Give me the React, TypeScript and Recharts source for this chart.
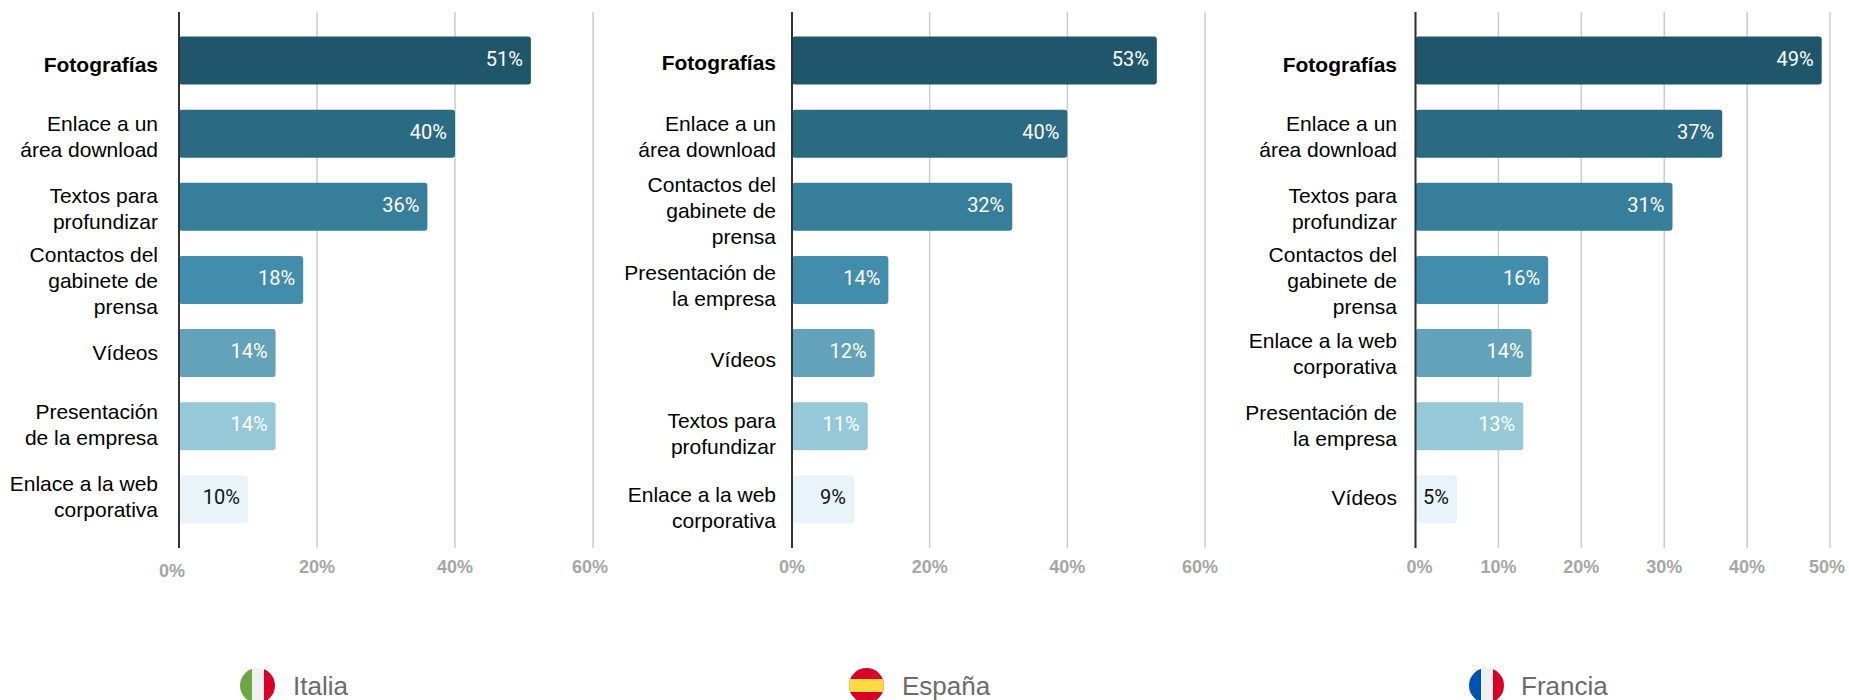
import { BarChart, Bar, XAxis, YAxis, CartesianGrid, Cell, LabelList } from "recharts";

const italyLabels = [
  "Fotografías",
  "Enlace a un\nárea download",
  "Textos para\nprofundizar",
  "Contactos del\ngabinete de\nprensa",
  "Vídeos",
  "Presentación\nde la empresa",
  "Enlace a la web\ncorporativa",
];
const italyValues = [51, 40, 36, 18, 14, 14, 10];

const spainLabels = [
  "Fotografías",
  "Enlace a un\nárea download",
  "Contactos del\ngabinete de\nprensa",
  "Presentación de\nla empresa",
  "Vídeos",
  "Textos para\nprofundizar",
  "Enlace a la web\ncorporativa",
];
const spainValues = [53, 40, 32, 14, 12, 11, 9];

const franceLabels = [
  "Fotografías",
  "Enlace a un\nárea download",
  "Textos para\nprofundizar",
  "Contactos del\ngabinete de\nprensa",
  "Enlace a la web\ncorporativa",
  "Presentación de\nla empresa",
  "Vídeos",
];
const franceValues = [49, 37, 31, 16, 14, 13, 5];

const ticks60 = [0, 20, 40, 60];
const ticks50 = [0, 10, 20, 30, 40, 50];

const barColors = ["#20566b", "#2a6a82", "#377e9a", "#428dab", "#63a2b8", "#96c8d8", "#e8f4f9"];

const LABEL_FONT = "'Liberation Sans', Arial, sans-serif";

const toRows = (labels: string[], values: number[]) =>
  labels.map((label, i) => ({ label, value: values[i] }));

function CategoryTick({ x, y, payload, index, labelDy, drift }: any) {
  const lines = String(payload.value).split("\n");
  const lineHeight = 26;
  const startY = y + 10 + labelDy - ((lines.length - 1) * lineHeight) / 2 + index * drift;
  return (
    <text
      x={x}
      y={startY}
      textAnchor="end"
      fontFamily={LABEL_FONT}
      fontSize={21}
      fontWeight={index === 0 ? 700 : 400}
      fill="#000"
    >
      {lines.map((line, i) => (
        <tspan key={i} x={x} y={startY + i * lineHeight}>
          {line}
        </tspan>
      ))}
    </text>
  );
}

function PercentTick({ x, y, payload, zeroDx, zeroDy, lastDx, max }: any) {
  const isZero = payload.value === 0;
  const isLast = payload.value === max;
  return (
    <text
      x={x + (isZero ? zeroDx : 0) + (isLast ? lastDx : 0)}
      y={y + (isZero ? zeroDy : 0)}
      textAnchor="middle"
      fontFamily={LABEL_FONT}
      fontSize={18}
      fontWeight={700}
      fill="#a6a6a6"
    >
      {payload.value}%
    </text>
  );
}

function ValueLabel({ x, y, width, height, value, index }: any) {
  return (
    <text
      x={x + width - 8}
      y={y + height / 2 + 5}
      textAnchor="end"
      fontFamily="Roboto, sans-serif"
      fontSize={20}
      fill={index === barColors.length - 1 ? "#111" : "#fff"}
    >
      {value}%
    </text>
  );
}

interface PanelProps {
  left: number;
  width: number;
  axisWidth: number;
  marginRight: number;
  labelGap: number;
  labelDy: number;
  drift: number;
  zeroDx: number;
  zeroDy: number;
  lastDx: number;
  max: number;
  ticks: number[];
  labels: string[];
  values: number[];
}

function Panel(p: PanelProps) {
  return (
    <div style={{ position: "absolute", left: p.left, top: 0 }}>
      <BarChart
        width={p.width}
        height={600}
        layout="vertical"
        data={toRows(p.labels, p.values)}
        margin={{ top: 12, right: p.marginRight, bottom: 0, left: 0 }}
        barCategoryGap={13}
      >
        <CartesianGrid horizontal={false} stroke="#cccccc" strokeWidth={1.5} />
        <XAxis
          type="number"
          domain={[0, p.max]}
          ticks={p.ticks}
          height={52}
          interval={0}
          axisLine={false}
          tickLine={false}
          tick={(props: any) => (
            <PercentTick {...props} y={573} zeroDx={p.zeroDx} zeroDy={p.zeroDy} lastDx={p.lastDx} max={p.max} />
          )}
        />
        <YAxis
          type="category"
          dataKey="label"
          width={p.axisWidth}
          padding={{ top: 11.5, bottom: 12.5 }}
          axisLine={{ stroke: "#333333", strokeWidth: 2 }}
          tickLine={false}
          tickSize={0}
          tickMargin={p.labelGap}
          interval={0}
          tick={(props: any) => <CategoryTick {...props} labelDy={p.labelDy} drift={p.drift} />}
        />
        <Bar dataKey="value" barSize={48} radius={3} isAnimationActive={false}>
          {p.values.map((_, i) => (
            <Cell key={i} fill={barColors[i]} />
          ))}
          <LabelList dataKey="value" content={(props: any) => <ValueLabel {...props} />} />
        </Bar>
      </BarChart>
    </div>
  );
}

function Flag({ country }: { country: string }) {
  return (
    <svg width={35} height={35} viewBox="0 0 35 35" style={{ display: "block" }}>
      <defs>
        <clipPath id={`clip-${country}`}>
          <circle cx={17.5} cy={17.5} r={17.5} />
        </clipPath>
      </defs>
      <g clipPath={`url(#clip-${country})`}>
        {country === "Italia" && (
          <>
            <rect x={0} y={0} width={12} height={35} fill="#6da544" />
            <rect x={12} y={0} width={12} height={35} fill="#f0f0f0" />
            <rect x={24} y={0} width={11} height={35} fill="#d80027" />
          </>
        )}
        {country === "España" && (
          <>
            <rect x={0} y={0} width={35} height={35} fill="#d80027" />
            <rect x={0} y={11} width={35} height={13} fill="#ffda44" />
          </>
        )}
        {country === "Francia" && (
          <>
            <rect x={0} y={0} width={12} height={35} fill="#0052b4" />
            <rect x={12} y={0} width={12} height={35} fill="#f0f0f0" />
            <rect x={24} y={0} width={11} height={35} fill="#d80027" />
          </>
        )}
      </g>
    </svg>
  );
}

function LegendItem({ country, flagLeft, textLeft }: { country: string; flagLeft: number; textLeft: number }) {
  return (
    <>
      <div style={{ position: "absolute", left: flagLeft, top: 668 }}>
        <Flag country={country} />
      </div>
      <div
        style={{
          position: "absolute",
          left: textLeft,
          top: 671,
          fontFamily: LABEL_FONT,
          fontSize: 26,
          lineHeight: "30px",
          color: "#6b6b6b",
        }}
      >
        {country}
      </div>
    </>
  );
}

export default function App() {
  return (
    <div style={{ position: "absolute", left: 0, top: 0, width: 1849, height: 700, overflow: "hidden", background: "#fff" }}>
      <Panel left={0} width={620} axisWidth={179} marginRight={27} labelGap={21} labelDy={1.5} drift={-1} zeroDx={-7} zeroDy={4} lastDx={-3} max={60} ticks={ticks60} labels={italyLabels} values={italyValues} />
      <Panel left={620} width={620} axisWidth={172} marginRight={35} labelGap={16} labelDy={0} drift={1} zeroDx={0} zeroDy={0} lastDx={-5} max={60} ticks={ticks60} labels={spainLabels} values={spainValues} />
      <Panel left={1240} width={609} axisWidth={175.5} marginRight={19} labelGap={18.5} labelDy={1.5} drift={-0.9} zeroDx={4} zeroDy={0} lastDx={-3} max={50} ticks={ticks50} labels={franceLabels} values={franceValues} />
      <LegendItem country="Italia" flagLeft={240} textLeft={293} />
      <LegendItem country="España" flagLeft={849} textLeft={902} />
      <LegendItem country="Francia" flagLeft={1469} textLeft={1521} />
    </div>
  );
}
